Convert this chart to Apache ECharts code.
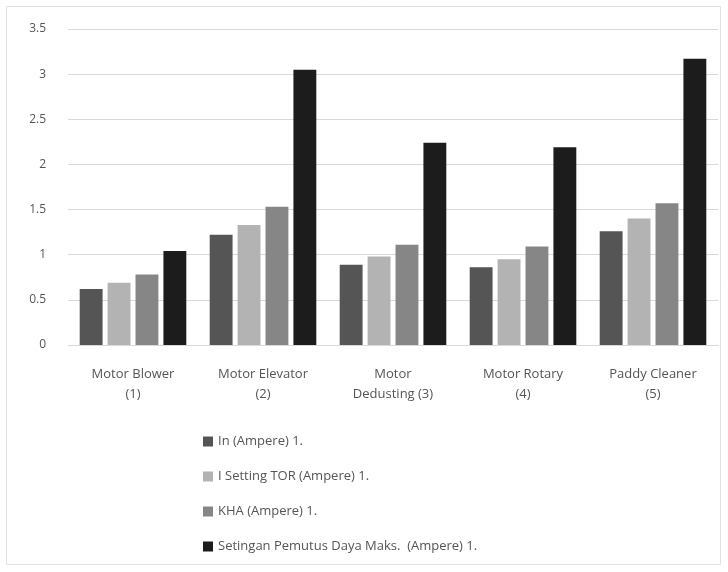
<!DOCTYPE html>
<html><head><meta charset="utf-8">
<script src="https://cdn.jsdelivr.net/npm/echarts@6/dist/echarts.min.js"></script>
<style>html,body{margin:0;padding:0;background:#fff}#c{width:728px;height:572px}</style>
</head><body><div id="c"></div>
<script>
const categories = ["Motor Blower\n(1)", "Motor Elevator\n(2)", "Motor\nDedusting (3)", "Motor Rotary\n(4)", "Paddy Cleaner\n(5)"];
const seriesNames = ["In (Ampere) 1.", "I Setting TOR (Ampere) 1.", "KHA (Ampere) 1.", "Setingan Pemutus Daya Maks.  (Ampere) 1."];
const inValues = [0.62, 1.22, 0.89, 0.86, 1.26];
const torValues = [0.69, 1.33, 0.98, 0.95, 1.40];
const khaValues = [0.78, 1.53, 1.11, 1.09, 1.57];
const maxValues = [1.04, 3.05, 2.24, 2.19, 3.17];
const yTicks = [0, 0.5, 1, 1.5, 2, 2.5, 3, 3.5];

const colors = ['#555555', '#b3b3b3', '#868686', '#1c1c1c'];
const allValues = [inValues, torValues, khaValues, maxValues];
const chart = echarts.init(document.getElementById('c'));
chart.setOption({
  animation: false,
  color: colors,
  graphic: [{type: 'rect', shape: {x: 6.5, y: 6.5, width: 714, height: 558},
    style: {fill: 'none', stroke: '#e2e2e2', lineWidth: 1}, silent: true}],
  grid: {left: 68, right: 10, top: 29, bottom: 227},
  xAxis: {
    type: 'category', data: categories,
    axisTick: {show: false},
    axisLine: {lineStyle: {color: '#d9d9d9'}},
    axisLabel: {color: '#555', fontSize: 13, fontFamily: 'Open Sans', lineHeight: 20, margin: 19, interval: 0}
  },
  yAxis: {
    type: 'value', min: 0, max: 3.5, interval: 0.5,
    axisLabel: {color: '#555', fontSize: 12, fontFamily: 'Open Sans', margin: 22,
      formatter: v => yTicks.includes(v) ? String(v) : ''},
    splitLine: {lineStyle: {color: '#d9d9d9'}}
  },
  legend: {
    orient: 'vertical', left: 198, top: 430, itemGap: 22,
    itemWidth: 10, itemHeight: 10, icon: 'rect',
    textStyle: {color: '#555', fontSize: 13, fontFamily: 'Open Sans'},
    data: seriesNames
  },
  series: seriesNames.map((n, i) => ({
    name: n, type: 'bar', data: allValues[i],
    barGap: '22%', barCategoryGap: '18%',
    itemStyle: {color: colors[i]}
  }))
});
</script></body></html>
